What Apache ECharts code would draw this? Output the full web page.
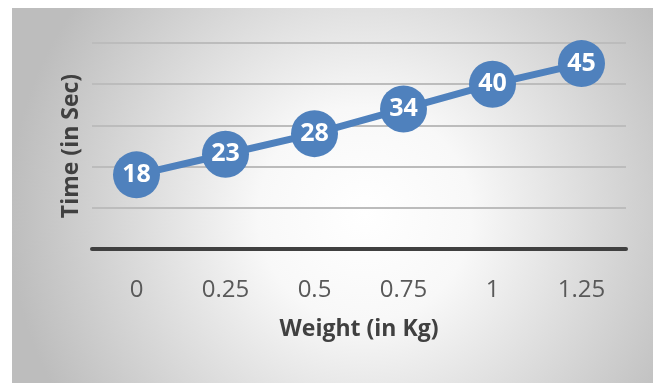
<!DOCTYPE html>
<html>
<head>
<meta charset="utf-8">
<script src="https://cdn.jsdelivr.net/npm/echarts@6/dist/echarts.min.js"></script>
<style>
  html, body { margin: 0; padding: 0; background: #ffffff; }
  #chart { width: 663px; height: 383px; }
</style>
</head>
<body>
<div id="chart"></div>
<script>
// Weight (kg) on the x axis, time (s) on the y axis
const weights = ['0', '0.25', '0.5', '0.75', '1', '1.25'];
const times = [18, 23, 28, 34, 40, 45];
const yTicks = { min: 0, max: 50, step: 10 };

const FONT = '"Open Sans", "Liberation Sans", sans-serif';
const chart = echarts.init(document.getElementById('chart'));

chart.setOption({
  backgroundColor: '#ffffff',
  animation: false,
  graphic: [{
    type: 'rect',
    z: -10,
    silent: true,
    shape: { x: 12, y: 8, width: 641, height: 375 },
    style: {
      fill: {
        type: 'radial', x: 0.55, y: 0.55, r: 0.95,
        colorStops: [
          { offset: 0, color: '#ffffff' },
          { offset: 0.3, color: '#f8f8f8' },
          { offset: 1, color: '#bdbdbd' }
        ]
      }
    }
  }],
  grid: { left: 92, right: 37, top: 43, bottom: 134 },
  xAxis: {
    type: 'category',
    data: weights,
    boundaryGap: true,
    axisLine: { show: true, lineStyle: { color: '#404040', width: 4 } },
    axisTick: { show: false },
    axisLabel: { color: '#595959', fontSize: 24, fontFamily: FONT, margin: 29 },
    name: 'Weight (in Kg)',
    nameLocation: 'middle',
    nameGap: 69,
    nameTextStyle: { color: '#404040', fontSize: 23, fontWeight: 'bold', fontFamily: FONT }
  },
  yAxis: {
    type: 'value',
    min: yTicks.min,
    max: yTicks.max,
    interval: yTicks.step,
    axisLine: { show: false },
    axisTick: { show: false },
    axisLabel: { show: false },
    splitLine: { lineStyle: { color: '#bcbcbc', width: 2 } },
    name: 'Time (in Sec)',
    nameLocation: 'middle',
    nameGap: 9,
    nameTextStyle: { color: '#404040', fontSize: 23, fontWeight: 'bold', fontFamily: FONT }
  },
  series: [{
    type: 'line',
    data: times,
    symbol: 'circle',
    symbolSize: 47,
    lineStyle: { color: '#4f81bd', width: 7 },
    itemStyle: { color: '#4f81bd' },
    label: {
      show: true,
      position: 'inside',
      color: '#ffffff',
      fontSize: 25,
      fontWeight: 'bold',
      fontFamily: FONT
    }
  }]
});
</script>
</body>
</html>
